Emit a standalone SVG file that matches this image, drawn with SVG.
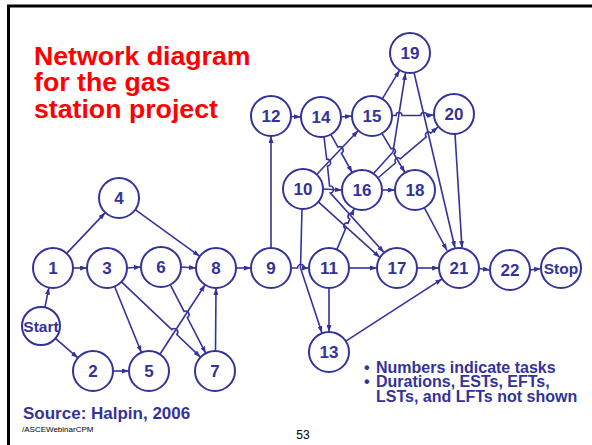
<svg xmlns="http://www.w3.org/2000/svg" width="592" height="445" viewBox="0 0 592 445">
<style>
.n circle{fill:#fff;stroke:#333399;stroke-width:2}
.n text{font-family:"Liberation Sans",Arial,sans-serif;font-weight:bold;font-size:17px;fill:#333399;text-anchor:middle}
.n text.s{font-size:15.5px}
#edges path{fill:none;stroke:#333399;stroke-width:1.6;marker-end:url(#ah)}
.t{font-family:"Liberation Sans",Arial,sans-serif;font-weight:bold}
</style>
<defs>
<marker id="ah" viewBox="0 0 7 5" refX="7" refY="2.5" markerWidth="7" markerHeight="5" markerUnits="userSpaceOnUse" orient="auto"><path d="M0,0 L7,2.5 L0,5 z" fill="#333399"/></marker>
</defs>
<rect width="592" height="445" fill="#fff"/>
<path d="M8.5,445 L8.5,6 L592,6" fill="none" stroke="#000" stroke-width="3"/>
<g id="title" class="t" fill="#ff0000" font-size="26.7px">
<text x="34" y="64.5">Network diagram</text>
<text x="34" y="91">for the gas</text>
<text x="34" y="117.5">station project</text>
</g>
<g id="edges">
<path d="M44.9,307.4 L48.9,287.6"/>
<path d="M55.4,338.4 L77.9,357.9"/>
<path d="M66.7,253.4 L105.3,212.6"/>
<path d="M73,268 L87,268"/>
<path d="M127,268 L141,267"/>
<path d="M114.6,286.5 L141.4,352.5"/>
<path d="M121.5,281.8 L171.77,329.69 A3.5,3.5 0 0 1 176.83,334.52 L200.5,357.2"/>
<path d="M181,267 L196,268"/>
<path d="M170.2,284.7 L184.09,311.4 A3.5,3.5 0 0 1 187.31,317.6 L205.8,353.3"/>
<path d="M135.2,209.7 L199.8,256.3"/>
<path d="M113,371 L129,371"/>
<path d="M159.9,354.2 L205.1,284.8"/>
<path d="M215.5,351 L216,288"/>
<path d="M236,268 L251,268"/>
<path d="M271,248 L271,136"/>
<path d="M291,116.5 L301,117"/>
<path d="M341,117 L352,116"/>
<path d="M382.3,98.9 L399.7,70.1"/>
<path d="M392,115.5 L396,115.5 A3,3 0 0 1 402,115.5 L420.8,115.5 A3,3 0 0 1 426.8,115.5 L434,115"/>
<path d="M316.7,174.5 L358.3,130.5"/>
<path d="M330.8,134.4 L337.96,147.13 A3.5,3.5 0 0 1 341.39,153.23 L352.2,172.6"/>
<path d="M324,137 L326.7,159.1 A3.5,3.5 0 0 1 327.5,166.1 L329.6,186 A3.5,3.5 0 0 1 330.4,193 L384,252.5"/>
<path d="M323,189 L342,190"/>
<path d="M318.3,201.9 L380,257.5"/>
<path d="M336.8,249.6 L345.63,228.66 A3,3 0 0 1 347.97,223.14 L349.73,219.06 A3,3 0 0 1 352.07,213.54 L354.2,208.4"/>
<path d="M349,268 L377,268"/>
<path d="M329,288 L329,332"/>
<path d="M291,268 L297.5,268 A3.5,3.5 0 0 1 304.5,268 L309,268"/>
<path d="M302,209 L300.5,268 L322,333"/>
<path d="M345.8,341.1 L442.2,278.9"/>
<path d="M417,268 L439,268"/>
<path d="M479,268.5 L490,270"/>
<path d="M530,270 L541,268.5"/>
<path d="M382,190 L395,190"/>
<path d="M382,133.3 L390.99,148.77 A3,3 0 0 1 394.01,153.95 L405,172.7"/>
<path d="M374,173 L393,152 L405.5,73"/>
<path d="M378.5,177.5 L395.66,162.76 A3,3 0 0 1 400.24,158.88 L426.21,136.94 A3,3 0 0 1 430.79,133.06 L438,127"/>
<path d="M414,72.5 L455,248"/>
<path d="M455,134 L462,248"/>
<path d="M424.3,207.7 L447,250.5"/>
</g>
<g id="nStart" class="n"><circle cx="41" cy="326" r="19"/><text class="s" x="41" y="331.5">Start</text></g>
<g id="n1" class="n"><circle cx="53" cy="268" r="20"/><text x="53" y="274">1</text></g>
<g id="n2" class="n"><circle cx="93" cy="371" r="20"/><text x="93" y="377">2</text></g>
<g id="n3" class="n"><circle cx="107" cy="268" r="20"/><text x="107" y="274">3</text></g>
<g id="n4" class="n"><circle cx="119" cy="198" r="20"/><text x="119" y="204">4</text></g>
<g id="n5" class="n"><circle cx="149" cy="371" r="20"/><text x="149" y="377">5</text></g>
<g id="n6" class="n"><circle cx="161" cy="267" r="20"/><text x="161" y="273">6</text></g>
<g id="n7" class="n"><circle cx="215" cy="371" r="20"/><text x="215" y="377">7</text></g>
<g id="n8" class="n"><circle cx="216" cy="268" r="20"/><text x="216" y="274">8</text></g>
<g id="n9" class="n"><circle cx="271" cy="268" r="20"/><text x="271" y="274">9</text></g>
<g id="n10" class="n"><circle cx="303" cy="189" r="20"/><text x="303" y="195">10</text></g>
<g id="n11" class="n"><circle cx="329" cy="268" r="20"/><text x="329" y="274">11</text></g>
<g id="n12" class="n"><circle cx="271" cy="116" r="20"/><text x="271" y="122">12</text></g>
<g id="n13" class="n"><circle cx="329" cy="352" r="20"/><text x="329" y="358">13</text></g>
<g id="n14" class="n"><circle cx="321" cy="117" r="20"/><text x="321" y="123">14</text></g>
<g id="n15" class="n"><circle cx="372" cy="116" r="20"/><text x="372" y="122">15</text></g>
<g id="n16" class="n"><circle cx="362" cy="190" r="20"/><text x="362" y="196">16</text></g>
<g id="n17" class="n"><circle cx="397" cy="268" r="20"/><text x="397" y="274">17</text></g>
<g id="n18" class="n"><circle cx="415" cy="190" r="20"/><text x="415" y="196">18</text></g>
<g id="n19" class="n"><circle cx="410" cy="53" r="20"/><text x="410" y="59">19</text></g>
<g id="n20" class="n"><circle cx="454" cy="114" r="20"/><text x="454" y="120">20</text></g>
<g id="n21" class="n"><circle cx="459" cy="268" r="20"/><text x="459" y="274">21</text></g>
<g id="n22" class="n"><circle cx="510" cy="270" r="20"/><text x="510" y="276">22</text></g>
<g id="nStop" class="n"><circle cx="561" cy="268" r="20"/><text class="s" x="561" y="273.5">Stop</text></g>
<g id="notes" class="t" fill="#333399" font-size="16px">
<text x="364" y="372.5">•</text>
<text x="376" y="372.5">Numbers indicate tasks</text>
<text x="364" y="387">•</text>
<text x="376" y="387">Durations, ESTs, EFTs,</text>
<text x="376" y="401.5">LSTs, and LFTs not shown</text>
<text x="23" y="418.5" font-size="17px">Source: Halpin, 2006</text>
</g>
<text x="22" y="432" font-family="'Liberation Sans',Arial,sans-serif" font-size="8px" fill="#000">/ASCEWebinarCPM</text>
<text x="303" y="439" font-family="'Liberation Sans',Arial,sans-serif" font-size="12px" fill="#000" text-anchor="middle">53</text>
</svg>
